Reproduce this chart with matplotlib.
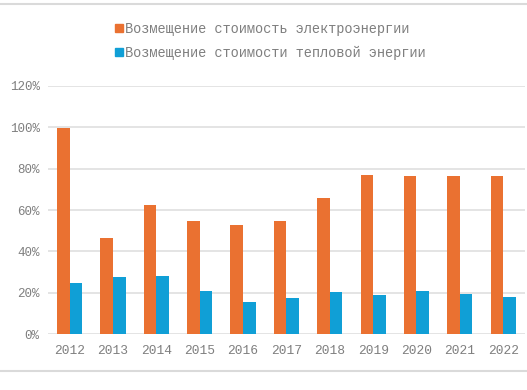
import matplotlib
import matplotlib.pyplot as plt
import numpy as np
from matplotlib.lines import Line2D
from matplotlib.patches import Patch

matplotlib.use("Agg")

years = ["2012", "2013", "2014", "2015", "2016", "2017", "2018", "2019", "2020", "2021", "2022"]
electricity = [99.5, 46.5, 62.2, 54.6, 52.7, 54.6, 65.9, 76.8, 76.6, 76.6, 76.6]
heat = [25.0, 27.6, 28.1, 20.7, 15.4, 17.5, 20.4, 18.8, 20.9, 19.6, 18.0]
labels = ["Возмещение стоимость электроэнергии", "Возмещение стоимости тепловой энергии"]

ORANGE = "#EA7131"
BLUE = "#109FD6"
GRAY = "#7f7f7f"
FONT = "Liberation Mono"

fig = plt.figure(figsize=(5.27, 3.9), dpi=100)
ax = fig.add_axes([0.091, 0.1428, 0.905, 0.6374])

x = np.arange(len(years))
w = 0.29
ax.bar(x - w / 2, electricity, width=w, color=ORANGE, zorder=3)
ax.bar(x + w / 2, heat, width=w, color=BLUE, zorder=3)

ax.set_xlim(-0.5, len(years) - 0.5)
ax.set_ylim(0, 120)
ax.set_yticks(range(0, 121, 20))
ax.set_yticklabels([f"{v}%" for v in range(0, 121, 20)])
ax.set_xticks(x)
ax.set_xticklabels(years)
ax.grid(axis="y", color="#e4e4e4", linewidth=1.4, zorder=0)
for s in ax.spines.values():
    s.set_visible(False)
ax.tick_params(length=0, colors=GRAY, labelsize=9, pad=6)
ax.tick_params(axis="x", pad=8, labelsize=9.3)
for t in ax.get_xticklabels() + ax.get_yticklabels():
    t.set_fontfamily(FONT)

handles = [Patch(color=ORANGE), Patch(color=BLUE)]
fig.legend(handles, labels, loc="upper left", bbox_to_anchor=(0.195, 0.976),
           frameon=False, handlelength=0.55, handleheight=0.55, handletextpad=0.2,
           labelspacing=0.72, labelcolor=GRAY, prop={"family": FONT, "size": 9.8})

# chart frame lines
fig.add_artist(Line2D([0, 1], [0.99, 0.99], color="#dadada", linewidth=1.5))
fig.add_artist(Line2D([0, 1], [0.049, 0.049], color="#dadada", linewidth=1.5))

plt.savefig("out.png", dpi=100)
plt.close()
